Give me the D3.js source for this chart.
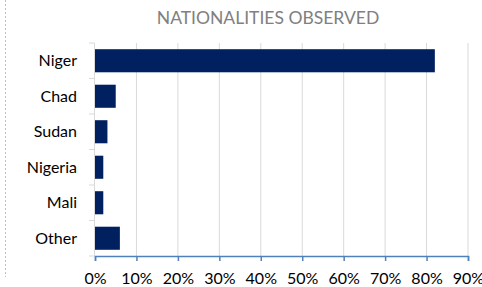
<!DOCTYPE html>
<html>
<head>
<meta charset="utf-8">
<script src="https://cdn.jsdelivr.net/npm/d3@7"></script>
<style>
  body { margin: 0; background: #fff; }
  svg { font-family: Lato, "Open Sans", sans-serif; }
</style>
</head>
<body>
<div id="chart"></div>
<script>
// chart data
var categories = ["Niger", "Chad", "Sudan", "Nigeria", "Mali", "Other"];
var shares = [0.82, 0.05, 0.03, 0.02, 0.02, 0.06];
var tickValues = [0, 0.1, 0.2, 0.3, 0.4, 0.5, 0.6, 0.7, 0.8, 0.9];

var W = 482, H = 287;
var margin = {top: 43, right: 14, bottom: 31, left: 95},
    width = W - margin.left - margin.right,
    height = H - margin.top - margin.bottom;

var svg = d3.select("#chart")
  .append("svg")
    .attr("width", W)
    .attr("height", H);

// dashed border on the left
svg.append("line")
  .attr("x1", 5.5).attr("x2", 5.5)
  .attr("y1", 0).attr("y2", 277)
  .attr("stroke", "#bfbfbf")
  .attr("stroke-dasharray", "2,2");

// title
svg.append("text")
  .attr("x", 268)
  .attr("y", 24)
  .attr("text-anchor", "middle")
  .attr("fill", "#808080")
  .attr("font-size", 17.5)
  .text("NATIONALITIES OBSERVED");

var g = svg.append("g")
  .attr("transform", "translate(" + margin.left + "," + margin.top + ")");

var x = d3.scaleLinear().domain([0, 0.9]).range([0, width]);
var y = d3.scaleBand().domain(categories).range([0, height]).paddingInner(0.35).paddingOuter(0.175);

// gridlines
g.selectAll(".grid")
  .data(tickValues.slice(1))
  .enter().append("line")
    .attr("x1", d => x(d)).attr("x2", d => x(d))
    .attr("y1", 0).attr("y2", height)
    .attr("stroke", "#d9d9d9")
    .attr("stroke-width", 1);

// bars
g.selectAll("rect")
  .data(categories)
  .enter().append("rect")
    .attr("x", x(0))
    .attr("y", d => y(d))
    .attr("width", (d, i) => x(shares[i]) - x(0))
    .attr("height", y.bandwidth())
    .attr("fill", "#002060");

// y axis (grey line, ticks between categories)
var yLine = d3.scaleLinear().domain([0, categories.length]).range([0, height]);
g.append("line")
  .attr("x1", -0.5).attr("x2", -0.5)
  .attr("y1", 0).attr("y2", height)
  .attr("stroke", "#d9d9d9");
g.selectAll(".ytick")
  .data(d3.range(categories.length + 1))
  .enter().append("line")
    .attr("x1", -6).attr("x2", -0.5)
    .attr("y1", d => yLine(d)).attr("y2", d => yLine(d))
    .attr("stroke", "#d9d9d9");
g.selectAll(".ylabel")
  .data(categories)
  .enter().append("text")
    .attr("x", -18)
    .attr("y", d => y(d) + y.bandwidth() / 2)
    .attr("dy", "0.35em")
    .attr("text-anchor", "end")
    .attr("font-size", 16)
    .attr("fill", "#000")
    .text(d => d);

// x axis
var xAxis = g.append("g")
  .attr("transform", "translate(0," + height + ")")
  .call(d3.axisBottom(x).tickValues(tickValues).tickFormat(d3.format(".0%")).tickSize(5).tickPadding(12));
xAxis.select(".domain").attr("stroke", "#4f81bd").attr("stroke-width", 1.5);
xAxis.selectAll(".tick line").attr("stroke", "#4f81bd").attr("stroke-width", 1.5);
xAxis.selectAll(".tick text")
  .attr("font-size", 16)
  .attr("font-family", "Lato, sans-serif")
  .attr("fill", "#000");
</script>
</body>
</html>
